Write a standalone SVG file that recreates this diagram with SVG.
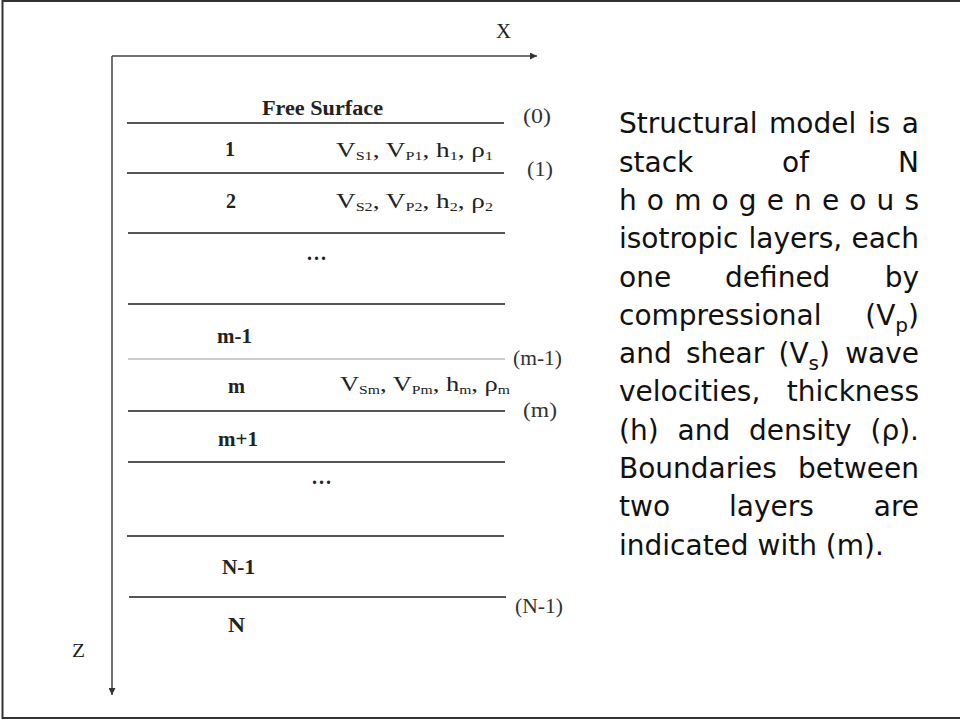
<svg xmlns="http://www.w3.org/2000/svg" width="960" height="720" viewBox="0 0 960 720">
  <defs>
    <marker id="arrow" viewBox="0 0 10 10" refX="10" refY="5" markerWidth="8" markerHeight="7" markerUnits="userSpaceOnUse" orient="auto">
      <path d="M0,0 L10,5 L0,10 z" fill="#333"/>
    </marker>
    <style>
      .frame { fill: none; stroke: #333; stroke-width: 2; }
      .axis { stroke: #444; stroke-width: 1.5; fill: none; }
      .layer { stroke: #555; stroke-width: 1.8; }
      .thin { stroke: #999; stroke-width: 1; }
      .serif { font-family: "Liberation Serif", "Times New Roman", serif; fill: #222; }
      .lab { font-family: "Liberation Serif", "Times New Roman", serif; font-weight: bold; font-size: 20px; fill: #222; }
      .par { font-family: "Liberation Serif", "Times New Roman", serif; font-size: 22px; fill: #222; }
      .sub { font-size: 13px; }
      .bnd { font-family: "Liberation Serif", "Times New Roman", serif; font-size: 20px; fill: #333; }
      .desc { font-family: "DejaVu Sans", Verdana, sans-serif; font-size: 28px; fill: #111; }
      .dsub { font-size: 20px; }
    </style>
  </defs>

  <rect class="frame" x="2.5" y="1" width="960" height="717"/>

  <g id="connectors">
    <line id="axis-x" class="axis" x1="112" y1="56" x2="537" y2="56" marker-end="url(#arrow)"/>
    <line id="axis-z" class="axis" x1="112" y1="56" x2="112" y2="695" marker-end="url(#arrow)"/>
    <line class="layer" x1="127" y1="123" x2="504" y2="123"/>
    <line class="layer" x1="127" y1="173" x2="504" y2="173"/>
    <line class="layer" x1="128" y1="233" x2="505" y2="233"/>
    <line class="layer" x1="128" y1="304" x2="505" y2="304"/>
    <line class="thin" x1="128" y1="359" x2="505" y2="359"/>
    <line class="layer" x1="128" y1="411" x2="505" y2="411"/>
    <line class="layer" x1="128" y1="462" x2="505" y2="462"/>
    <line class="layer" x1="127" y1="536" x2="504" y2="536"/>
    <line class="layer" x1="129" y1="597" x2="506" y2="597"/>
  </g>

  <g id="axis-labels">
    <text class="serif" x="496" y="38" font-size="20" textLength="15" lengthAdjust="spacingAndGlyphs">X</text>
    <text class="serif" x="72" y="657" font-size="19" textLength="13" lengthAdjust="spacingAndGlyphs">Z</text>
  </g>

  <g id="free-surface">
    <text class="lab" x="262" y="115" font-size="19" textLength="121" lengthAdjust="spacingAndGlyphs">Free Surface</text>
  </g>

  <g id="layer-1">
    <text class="lab" x="230" y="156" text-anchor="middle">1</text>
    <text class="par" x="336" y="157" textLength="157" lengthAdjust="spacingAndGlyphs">V<tspan class="sub" dy="3">S1</tspan><tspan dy="-3">, V</tspan><tspan class="sub" dy="3">P1</tspan><tspan dy="-3">, h</tspan><tspan class="sub" dy="3">1</tspan><tspan dy="-3">, ρ</tspan><tspan class="sub" dy="3">1</tspan></text>
  </g>
  <g id="layer-2">
    <text class="lab" x="231" y="208" text-anchor="middle">2</text>
    <text class="par" x="336" y="208" textLength="157" lengthAdjust="spacingAndGlyphs">V<tspan class="sub" dy="3">S2</tspan><tspan dy="-3">, V</tspan><tspan class="sub" dy="3">P2</tspan><tspan dy="-3">, h</tspan><tspan class="sub" dy="3">2</tspan><tspan dy="-3">, ρ</tspan><tspan class="sub" dy="3">2</tspan></text>
  </g>
  <g id="dots-1">
    <text class="lab" x="307" y="260" textLength="19" lengthAdjust="spacing">...</text>
  </g>
  <g id="layer-m-1">
    <text class="lab" x="217" y="343" textLength="35" lengthAdjust="spacingAndGlyphs">m-1</text>
  </g>
  <g id="layer-m">
    <text class="lab" x="228" y="393" textLength="17" lengthAdjust="spacingAndGlyphs">m</text>
    <text class="par" x="340" y="391" textLength="170" lengthAdjust="spacingAndGlyphs">V<tspan class="sub" dy="3">Sm</tspan><tspan dy="-3">, V</tspan><tspan class="sub" dy="3">Pm</tspan><tspan dy="-3">, h</tspan><tspan class="sub" dy="3">m</tspan><tspan dy="-3">, ρ</tspan><tspan class="sub" dy="3">m</tspan></text>
  </g>
  <g id="layer-m+1">
    <text class="lab" x="218" y="446" textLength="40" lengthAdjust="spacingAndGlyphs">m+1</text>
  </g>
  <g id="dots-2">
    <text class="lab" x="312" y="484" textLength="19" lengthAdjust="spacing">...</text>
  </g>
  <g id="layer-N-1">
    <text class="lab" x="222" y="574" textLength="33" lengthAdjust="spacingAndGlyphs">N-1</text>
  </g>
  <g id="layer-N">
    <text class="lab" x="228" y="632" textLength="17" lengthAdjust="spacingAndGlyphs">N</text>
  </g>

  <g id="boundary-labels">
    <text class="bnd" x="523" y="123" textLength="28" lengthAdjust="spacingAndGlyphs">(0)</text>
    <text class="bnd" x="527" y="176" textLength="26" lengthAdjust="spacingAndGlyphs">(1)</text>
    <text class="bnd" x="513" y="365" textLength="49" lengthAdjust="spacingAndGlyphs">(m-1)</text>
    <text class="bnd" x="523" y="417" textLength="34" lengthAdjust="spacingAndGlyphs">(m)</text>
    <text class="bnd" x="515" y="613" textLength="48" lengthAdjust="spacingAndGlyphs">(N-1)</text>
  </g>

  <g id="description">
    <text class="desc" x="619" y="133">Structural</text>
    <text class="desc" x="769" y="133">model</text>
    <text class="desc" x="868" y="133">is</text>
    <text class="desc" x="919" y="133" text-anchor="end">a</text>

    <text class="desc" x="619" y="172">stack</text>
    <text class="desc" x="782" y="172">of</text>
    <text class="desc" x="919" y="172" text-anchor="end">N</text>

    <text class="desc" x="619" y="210" textLength="300" lengthAdjust="spacing">h o m o g e n e o u s</text>

    <text class="desc" x="619" y="248">isotropic</text>
    <text class="desc" x="748.5" y="248">layers,</text>
    <text class="desc" x="919" y="248" text-anchor="end">each</text>

    <text class="desc" x="619" y="287">one</text>
    <text class="desc" x="725" y="287">defined</text>
    <text class="desc" x="919" y="287" text-anchor="end">by</text>

    <text class="desc" x="619" y="325">compressional</text>
    <text class="desc" x="919" y="325" text-anchor="end">(V<tspan class="dsub" dy="7">p</tspan><tspan dy="-7">)</tspan></text>

    <text class="desc" x="619" y="363">and</text>
    <text class="desc" x="686" y="363">shear</text>
    <text class="desc" x="778.5" y="363">(V<tspan class="dsub" dy="7">s</tspan><tspan dy="-7">)</tspan></text>
    <text class="desc" x="919" y="363" text-anchor="end">wave</text>

    <text class="desc" x="619" y="401">velocities,</text>
    <text class="desc" x="919" y="401" text-anchor="end">thickness</text>

    <text class="desc" x="619" y="440">(h)</text>
    <text class="desc" x="677.5" y="440">and</text>
    <text class="desc" x="749" y="440">density</text>
    <text class="desc" x="919" y="440" text-anchor="end">(ρ).</text>

    <text class="desc" x="619" y="478">Boundaries</text>
    <text class="desc" x="919" y="478" text-anchor="end">between</text>

    <text class="desc" x="619" y="516">two</text>
    <text class="desc" x="729" y="516">layers</text>
    <text class="desc" x="919" y="516" text-anchor="end">are</text>

    <text class="desc" x="619" y="555">indicated with (m).</text>
  </g>
</svg>
